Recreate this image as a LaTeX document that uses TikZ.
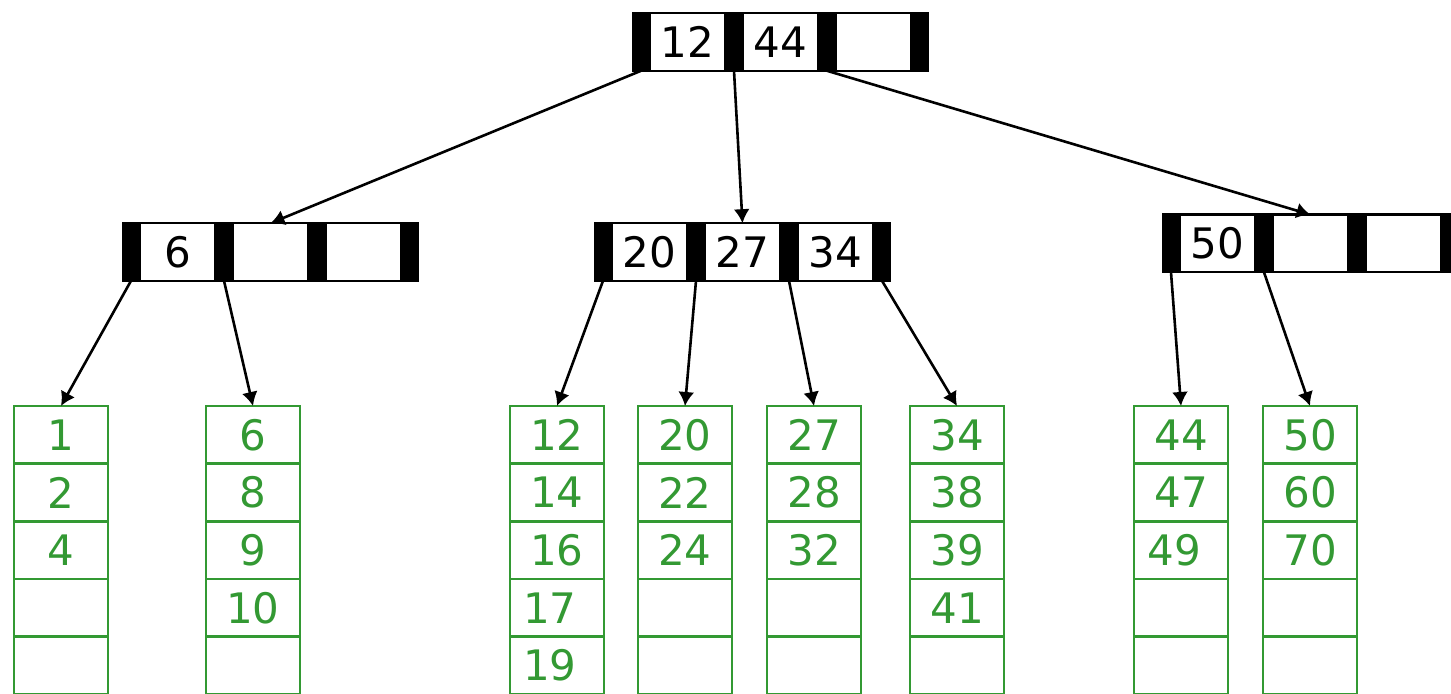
\documentclass[tikz,border=0pt]{standalone}
\usepackage{fontspec}
\setmainfont{DejaVu Sans}
\usetikzlibrary{arrows.meta}
\definecolor{leafgreen}{RGB}{51,153,51}

\begin{document}
\begin{tikzpicture}[x=0.5pt,y=-0.5pt,
    ptr/.style={draw,fill=black,line width=1.2pt,minimum width=7.8pt,minimum height=28.8pt,inner sep=0pt,outer sep=0pt},
    keycell/.style={draw,fill=white,line width=1.2pt,minimum width=37.5pt,minimum height=28.8pt,inner sep=0pt,outer sep=0pt,font=\fontsize{21}{25}\selectfont},
    leafcell/.style={draw=leafgreen,text=leafgreen,line width=1.4pt,minimum width=47pt,minimum height=28.85pt,inner sep=0pt,outer sep=0pt,font=\fontsize{21}{25}\selectfont},
    arr/.style={-{Latex[length=7pt,width=8pt]},line width=1.3pt}]
  \clip (0,0) rectangle (1451,694);
  % inner nodes: pointer bars and key cells
  \foreach \n/\x/\y/\ka/\kb/\kc in {root/632/42/12/44/{}, n1/122/252/6/{}/{}, n2/594/252/20/27/34, n3/1162/243.5/50/{}/{}}{
    \foreach \j in {0,...,3}
      \node[ptr] (\n-p\j) at ({\x+9+93*\j},\y) {};
    \node[keycell] (\n-k1) at ({\x+55.5},\y) {\ka};
    \node[keycell] (\n-k2) at ({\x+148.5},\y) {\kb};
    \node[keycell] (\n-k3) at ({\x+241.5},\y) {\kc};
  }
  % leaves
  \foreach \n/\x/\keys in {l1/61/{1,2,4,{},{}}, l2/253/{6,8,9,10,{}}, l3/557/{12,14,16,{\kern-7pt 17},{\kern-7pt 19}}, l4/685/{20,22,24,{},{}}, l5/814/{27,28,32,{},{}}, l6/957/{34,38,39,41,{}}, l7/1181/{44,47,{\kern-7pt 49},{},{}}, l8/1310/{50,60,70,{},{}}}
    \foreach \k [count=\i] in \keys
      \node[leafcell] (\n-\i) at (\x,{434.85+57.7*(\i-1)}) {\k};
  % pointers
  \draw[arr] (root-p0.south) -- (n1-k2.north);
  \draw[arr] (root-p1.south) -- (n2-k2.north);
  \draw[arr] (root-p2.south) -- (n3-k2.north);
  \draw[arr] (n1-p0.south) -- (l1-1.north);
  \draw[arr] (n1-p1.south) -- (l2-1.north);
  \draw[arr] (n2-p0.south) -- (l3-1.north);
  \draw[arr] (n2-p1.south) -- (l4-1.north);
  \draw[arr] (n2-p2.south) -- (l5-1.north);
  \draw[arr] (n2-p3.south) -- (l6-1.north);
  \draw[arr] (n3-p0.south) -- (l7-1.north);
  \draw[arr] (n3-p1.south) -- (l8-1.north);
\end{tikzpicture}
\end{document}
